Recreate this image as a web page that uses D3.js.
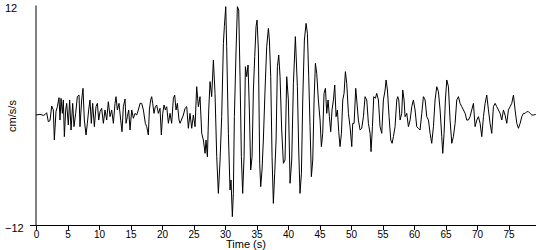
<!DOCTYPE html>
<html><head><meta charset="utf-8">
<script src="https://cdn.jsdelivr.net/npm/d3@7"></script>
<style>
html,body{margin:0;padding:0;background:#fff;}
svg{display:block;}
text{font-family:"Liberation Sans",Arial,sans-serif;fill:#000;}
</style></head>
<body>
<script>
const times = [
0,0.63,1.16,1.43,1.69,1.96,2.22,2.49,2.75,2.91,3.17,3.39,3.65,3.81,3.97,4.18,4.34,4.50,4.71,4.87,
5.13,5.34,5.56,5.82,6.03,6.30,6.56,6.83,6.98,7.25,7.46,7.67,7.94,8.15,8.36,8.57,8.78,8.99,9.26,9.52,
9.74,9.95,10.16,10.42,10.69,10.95,11.22,11.48,11.75,12.01,12.28,12.54,12.70,12.91,13.17,13.44,13.65,13.86,14.13,14.29,
14.50,14.71,14.92,15.19,15.45,15.71,15.98,16.24,16.51,16.77,17.04,17.35,17.57,17.83,17.99,18.20,18.36,18.52,18.73,18.94,
19.15,19.42,19.68,19.89,20.11,20.32,20.53,20.74,21.01,21.27,21.53,21.80,22.01,22.22,22.43,22.70,
22.86,23.39,23.65,23.92,24.18,24.44,24.71,24.97,25.24,25.50,25.77,26.03,26.30,26.56,26.83,26.98,27.20,27.41,27.62,27.88,
28.15,28.41,28.68,28.94,29.21,29.47,29.74,29.89,30.11,30.26,30.53,30.79,30.95,31.16,31.32,31.48,31.75,31.96,32.17,32.38,
32.59,32.80,33.02,33.23,33.44,33.65,33.86,34.07,34.29,34.50,34.71,34.92,35.08,35.29,35.50,35.66,35.87,36.08,36.35,36.61,
36.88,37.04,37.25,37.46,37.67,37.88,38.10,38.31,38.52,38.73,38.99,39.26,39.52,39.79,40.05,40.32,40.58,40.85,41.16,41.48,
41.69,41.90,42.12,42.33,42.59,42.86,43.07,43.28,43.49,43.70,43.92,44.13,44.34,44.55,44.81,45.08,45.29,45.50,45.71,45.93,
46.14,46.35,46.56,46.77,46.98,47.20,47.41,47.62,47.83,48.04,48.25,48.47,48.68,48.89,49.10,49.31,49.58,
49.84,50.11,50.26,50.48,50.74,50.90,51.16,51.43,51.69,51.96,52.22,52.49,52.75,53.02,53.17,53.39,53.60,53.86,54.07,54.34,
54.60,54.87,55.13,55.40,55.56,55.77,56.03,56.30,56.51,56.72,56.98,57.25,57.41,57.57,57.78,58.04,58.20,58.41,58.57,58.84,
59.10,59.37,59.63,59.89,60.16,60.42,60.69,60.95,61.22,61.48,61.75,62.01,62.28,62.54,62.80,63.07,63.33,63.60,63.86,64.13,
64.39,64.55,64.76,64.97,65.19,65.45,65.71,65.98,66.24,66.51,66.77,67.04,67.30,67.57,67.83,68.10,68.36,68.62,68.89,69.15,
69.42,69.68,69.95,70.21,70.48,70.74,71.01,71.27,71.53,71.80,72.06,72.33,72.59,72.86,73.12,73.39,73.65,73.92,74.18,74.44,
74.71,74.97,75.24,75.50,75.77,76.03,76.30,76.56,76.83,77.09,77.35,77.62,77.88,78.15,78.41,78.68,78.94,79.31
];
const accel = [
0,0.07,-0.04,0.04,0.25,-0.73,-0.62,0.98,0.55,-2.73,0.36,0.91,1.89,-0.55,1.82,0.18,1.64,-2.36,0.55,1.27,
-1.09,1.64,-1.64,1.27,-1.27,0.18,2.0,2.18,-1.27,1.64,2.91,-0.55,-2.18,-0.91,0.55,1.64,-0.91,1.27,-1.27,0.91,
1.27,-0.55,0.36,0.73,-0.91,0.55,-0.55,1.45,-0.18,0.55,-0.91,1.27,2.0,0.55,1.27,-0.55,-1.82,0.91,1.75,-0.91,
-0.18,0.55,-1.64,0.55,-0.36,0.18,0,0.55,1.27,1.27,0.55,-0.91,-1.27,-2.18,0.55,1.64,2.0,1.27,0.18,0.91,
1.09,0.18,0.73,-2.18,0.18,1.09,0.55,0.91,-0.91,0.18,-0.91,1.82,2.18,0.55,1.27,-0.55,
-0.91,0,0.73,0.91,-1.45,0.18,-1.45,0,-1.27,3.09,0.91,2.0,-2.0,-2.73,-4.18,-2.73,-4.55,0.55,3.64,2.0,
6.0,2.36,-4.55,-8.55,-4.91,-0.18,7.82,9.64,11.82,7.45,-2.0,-8.18,-7.09,-11.09,-8.55,-0.18,7.09,11.82,11.45,4.18,
-4.55,-8.55,-4.55,5.27,4.18,5.45,0.55,-6.0,-4.55,2.73,6.36,9.64,10.36,7.09,-5.27,-7.82,-6.0,-2.73,2.73,7.45,
9.45,8.18,4.18,-4.55,-9.64,-6.36,-2.73,5.27,6.55,4.18,-1.64,-5.27,-4.91,4.18,1.64,-7.45,-4.91,3.45,8.55,3.09,
-3.82,-8.55,-6.36,1.64,8.18,10.0,8.91,4.18,-1.27,-6.73,-4.91,1.64,5.64,4.55,1.64,-0.55,-3.45,-2.0,2.36,2.91,
0.18,1.64,-0.18,-1.82,0.55,1.64,3.27,-0.18,0.55,-1.82,-3.45,-2.0,1.64,2.36,4.73,3.45,0.18,
-1.27,-3.45,-0.91,-0.91,2.91,1.64,-0.55,-1.64,-1.45,-0.18,2.0,1.64,-0.91,-2.0,-4.0,-1.27,2.0,1.82,2.36,1.64,
-1.27,-2.0,1.64,2.73,3.82,2.73,-0.18,-2.73,-3.09,-2.36,-1.27,1.64,2.0,1.64,-0.55,0.18,2.73,1.64,-0.18,0.18,
-1.27,-0.55,0.91,1.64,0.55,-1.27,-1.45,-1.64,0.18,2.0,1.64,-0.18,-0.55,-2.0,-3.09,-1.27,1.64,3.09,2.55,0.55,
-2.36,-4.18,-2.0,1.64,3.82,3.09,-0.55,-3.09,-2.36,-0.91,1.64,2.0,1.27,0.91,0.55,0.18,-0.55,-0.55,-0.18,0.55,
1.27,-1.27,-0.55,-0.18,-0.91,-2.36,-0.18,1.27,2.18,0.55,-0.91,-2.0,0.91,1.27,0.91,0.55,0.18,-0.55,0.55,0,
-0.91,0.55,0.91,1.27,2.18,0.55,-0.91,-1.45,-0.91,-0.18,0.18,0.18,0.36,0.36,0.18,0,0,0.07
];
const xTicks = [0,5,10,15,20,25,30,35,40,45,50,55,60,65,70,75];
const yTicks = [12,-12];
const xLabel = "Time (s)";
const yLabel = "cm/s/s";

const W = 550, H = 250;
const svg = d3.select("body").append("svg").attr("width", W).attr("height", H);

const x = d3.scaleLinear().domain([0, 79.3]).range([36, 535.7]);
const y = d3.scaleLinear().domain([-12, 12]).range([225, 5]);

// x axis
const gx = svg.append("g").attr("transform", "translate(0,225.5)")
  .call(d3.axisBottom(x).tickValues(xTicks).tickSize(4).tickSizeOuter(0).tickPadding(1).tickFormat(d3.format("d")));
gx.select(".domain").remove();
gx.append("line").attr("x1", 30).attr("x2", 536).attr("y1", 0).attr("y2", 0).attr("stroke", "#000");
gx.selectAll(".tick line").attr("stroke", "#000").attr("shape-rendering", "crispEdges");
gx.selectAll(".tick text").attr("font-family", '"Liberation Sans",Arial,sans-serif').attr("font-size", 10).attr("fill", "#000").attr("dy", "0.72em");

// y axis (no tick marks, labels left-aligned)
const gy = svg.append("g").attr("transform", "translate(35.5,0)")
  .call(d3.axisLeft(y).tickValues(yTicks).tickSize(0).tickSizeOuter(0).tickFormat(d3.format("d")));
gy.select(".domain").attr("stroke", "#000");
gy.selectAll(".tick text").attr("font-family", '"Liberation Sans",Arial,sans-serif').attr("font-size", 11)
  .attr("fill", "#000").attr("text-anchor", "start").attr("x", -30.5).attr("dy", "0.55em");

// labels
svg.append("text").attr("x", 246).attr("y", 247.5).attr("text-anchor", "middle").attr("font-size", 11).text(xLabel);
svg.append("text").attr("transform", `translate(16,${116}) rotate(-90)`).attr("text-anchor", "middle")
  .attr("font-size", 11).text(yLabel);

// trace
const line = d3.line().x((d, i) => x(times[i])).y(d => y(d));
svg.append("path").datum(accel).attr("d", line).attr("fill", "none").attr("stroke", "#000").attr("stroke-width", 1);
</script>
</body></html>
